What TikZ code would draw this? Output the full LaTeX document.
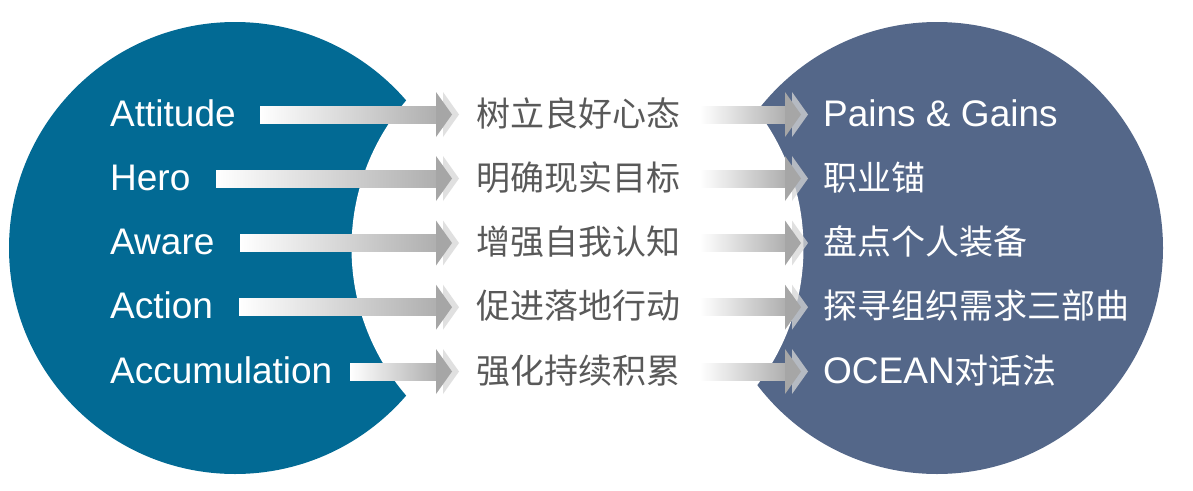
\documentclass[tikz,border=0pt]{standalone}
\usepackage{fontspec}
\setmainfont{Liberation Sans}
\newfontfamily\cjk{Noto Sans CJK SC}
\definecolor{leftblue}{HTML}{026A94}
\definecolor{rightblue}{HTML}{546789}
\definecolor{agray}{HTML}{A6A6A6}
\definecolor{ashadow}{HTML}{D6D6D6}
\definecolor{midtext}{HTML}{595959}
\newcommand\sarrow[3]{%
  \fill[ashadow, opacity=.75] (#2+7,#3-22.5) -- (#2+23,#3) -- (#2+7,#3+22.5) -- cycle;
  \shade[left color=white, right color=agray!90] (#1,#3-8.5) rectangle (#2+0.5,#3+8.5);
  \fill[agray] (#2,#3-22.5) -- (#2+16,#3) -- (#2,#3+22.5) -- cycle;
}
\newcommand\cjkr[1]{{\fontsize{34}{40}\selectfont\cjk #1}}
\begin{document}
\begin{tikzpicture}[x=1pt,y=-1pt,
  lab/.style={anchor=base west, inner sep=0pt, text=white, font=\fontsize{37}{40}\selectfont},
  midlab/.style={anchor=base west, inner sep=0pt, text=midtext, font=\fontsize{34}{40}\selectfont\cjk},
  rlab/.style={anchor=base west, inner sep=0pt, text=white, font=\fontsize{37}{40}\selectfont}]
\useasboundingbox (0,0) rectangle (1193,490);
\fill[white] (0,0) rectangle (1193,490);
% circles
\fill[leftblue] (235,248) circle[radius=226];
\fill[rightblue] (937,248) circle[radius=226];
\fill[white] (577.5,248) circle[radius=226];
% arrows left -> middle
\sarrow{260}{436}{114.5}
\sarrow{216}{436}{178.5}
\sarrow{240}{436}{243}
\sarrow{239}{436}{307.2}
\sarrow{350}{436}{371.5}
% arrows middle -> right
\sarrow{700}{785}{114.5}
\sarrow{700}{785}{178.5}
\sarrow{700}{785}{243}
\sarrow{700}{785}{307.2}
\sarrow{700}{785}{371.5}
% left labels
\node[lab] (l1) at (110,126) {Attitude};
\node[lab] (l2) at (110,190) {Hero};
\node[lab] (l3) at (110,254.5) {Aware};
\node[lab] (l4) at (110,318.7) {Action};
\node[lab] (l5) at (110,383) {Accumulation};
% middle labels
\node[midlab] (m1) at (476,126) {树立良好心态};
\node[midlab] (m2) at (476,190) {明确现实目标};
\node[midlab] (m3) at (476,254.5) {增强自我认知};
\node[midlab] (m4) at (476,318.7) {促进落地行动};
\node[midlab] (m5) at (476,383) {强化持续积累};
% right labels
\node[rlab] (r1) at (823,126) {Pains \& Gains};
\node[rlab] (r2) at (823,190) {\cjkr{职业锚}};
\node[rlab] (r3) at (823,254.5) {\cjkr{盘点个人装备}};
\node[rlab] (r4) at (823,318.7) {\cjkr{探寻组织需求三部曲}};
\node[rlab] (r5) at (823,383) {OCEAN\cjkr{对话法}};
\end{tikzpicture}
\end{document}
